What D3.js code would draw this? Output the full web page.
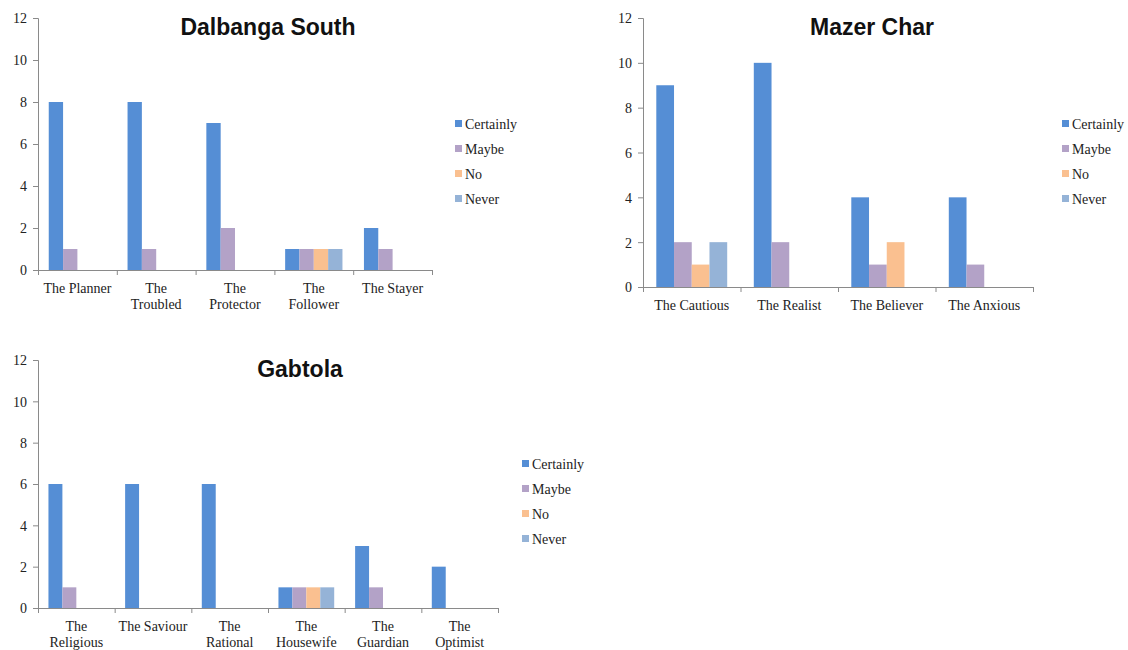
<!DOCTYPE html>
<html lang="en">
<head>
  <meta charset="UTF-8" />
  <title>Willingness by type</title>
  <script src="https://d3js.org/d3.v7.min.js"></script>
  <style>
    body { margin: 0; background: #fff; }
    .tick text, .cat, .leg { font-family: "Liberation Serif", "Times New Roman", serif; font-size: 14px; fill: #222; }
    .title { font-family: "Liberation Sans Narrow", "Liberation Sans", Arial, sans-serif; font-weight: bold; font-size: 23px; fill: #111; }
    .domain, .tick line { stroke: #8a8a8a; }
  </style>
</head>
<body>
<svg id="chart" width="1128" height="650"></svg>
<script>
  // answers, per settlement
  const seriesNames = ['Certainly', 'Maybe', 'No', 'Never'];
  const seriesColors = ['#558ed5', '#b3a2c7', '#fac090', '#95b3d7'];
  const yTicks = [0, 2, 4, 6, 8, 10, 12];

  const dalbangaCats = ['The Planner', 'The Troubled', 'The Protector', 'The Follower', 'The Stayer'];
  const dalbangaLabels = [['The Planner'], ['The', 'Troubled'], ['The', 'Protector'], ['The', 'Follower'], ['The Stayer']];
  const dalbangaCertainly = [8, 8, 7, 1, 2];
  const dalbangaMaybe = [1, 1, 2, 1, 1];
  const dalbangaNo = [0, 0, 0, 1, 0];
  const dalbangaNever = [0, 0, 0, 1, 0];

  const mazerCats = ['The Cautious', 'The Realist', 'The Believer', 'The Anxious'];
  const mazerLabels = [['The Cautious'], ['The Realist'], ['The Believer'], ['The Anxious']];
  const mazerCertainly = [9, 10, 4, 4];
  const mazerMaybe = [2, 2, 1, 1];
  const mazerNo = [1, 0, 2, 0];
  const mazerNever = [2, 0, 0, 0];

  const gabtolaCats = ['The Religious', 'The Saviour', 'The Rational', 'The Housewife', 'The Guardian', 'The Optimist'];
  const gabtolaLabels = [['The', 'Religious'], ['The Saviour'], ['The', 'Rational'], ['The', 'Housewife'], ['The', 'Guardian'], ['The', 'Optimist']];
  const gabtolaCertainly = [6, 6, 6, 1, 3, 2];
  const gabtolaMaybe = [1, 0, 0, 1, 1, 0];
  const gabtolaNo = [0, 0, 0, 1, 0, 0];
  const gabtolaNever = [0, 0, 0, 1, 0, 0];

  const svg = d3.select('#chart');

  function drawChart(o) {
    const g = svg.append('g');
    const n = o.cats.length;
    const x0 = d3.scaleBand().domain(o.cats).range([o.left, o.right]);
    const bw = x0.bandwidth();
    const gap = bw * 0.75 / 5.5; // excel gap width 150%
    const x1 = d3.scaleBand().domain(seriesNames).range([gap, bw - gap]);
    const y = d3.scaleLinear().domain([0, 12]).range([o.bottom, o.top]);

    // y axis
    g.append('g').attr('transform', `translate(${o.left},0)`)
      .call(d3.axisLeft(y).tickValues(yTicks).tickSize(5).tickPadding(6))
      .call(a => a.selectAll('.tick text').attr('dy', '0.35em'));

    // x axis, ticks on category boundaries
    const xb = d3.scaleLinear().domain([0, n]).range([o.left, o.right]);
    g.append('g').attr('transform', `translate(0,${o.bottom})`)
      .call(d3.axisBottom(xb).tickValues(d3.range(n + 1)).tickFormat('').tickSize(5));

    // bars
    o.values.forEach((vals, si) => {
      g.append('g').selectAll('rect').data(vals).join('rect')
        .attr('x', (d, i) => x0(o.cats[i]) + x1(seriesNames[si]))
        .attr('width', x1.bandwidth())
        .attr('y', d => y(d))
        .attr('height', d => y(0) - y(d))
        .attr('fill', seriesColors[si]);
    });

    // category labels
    o.labels.forEach((lines, i) => {
      const t = g.append('text').attr('class', 'cat')
        .attr('text-anchor', 'middle')
        .attr('x', x0(o.cats[i]) + bw / 2)
        .attr('y', o.bottom + 23);
      lines.forEach((l, k) => t.append('tspan').attr('x', x0(o.cats[i]) + bw / 2).attr('dy', k ? 16 : 0).text(l));
    });

    // title
    g.append('text').attr('class', 'title').attr('text-anchor', 'middle')
      .attr('x', o.titleX).attr('y', o.titleY).text(o.title);

    // legend
    const leg = g.append('g').selectAll('g').data(seriesNames).join('g')
      .attr('transform', (d, i) => `translate(${o.legX},${o.legY + i * 25})`);
    leg.append('rect').attr('x', 0).attr('y', -4).attr('width', 7).attr('height', 7)
      .attr('fill', (d, i) => seriesColors[i]);
    leg.append('text').attr('class', 'leg').attr('x', 10).attr('dy', '0.35em').text(d => d);
  }

  drawChart({
    title: 'Dalbanga South', cats: dalbangaCats, labels: dalbangaLabels,
    values: [dalbangaCertainly, dalbangaMaybe, dalbangaNo, dalbangaNever],
    left: 38, right: 432, top: 18, bottom: 270,
    titleX: 268, titleY: 35, legX: 455, legY: 124
  });

  drawChart({
    title: 'Mazer Char', cats: mazerCats, labels: mazerLabels,
    values: [mazerCertainly, mazerMaybe, mazerNo, mazerNever],
    left: 643, right: 1033, top: 18, bottom: 287,
    titleX: 872, titleY: 35, legX: 1062, legY: 124
  });

  drawChart({
    title: 'Gabtola', cats: gabtolaCats, labels: gabtolaLabels,
    values: [gabtolaCertainly, gabtolaMaybe, gabtolaNo, gabtolaNever],
    left: 38, right: 498, top: 360, bottom: 608,
    titleX: 300, titleY: 377, legX: 522, legY: 464
  });
</script>
</body>
</html>
